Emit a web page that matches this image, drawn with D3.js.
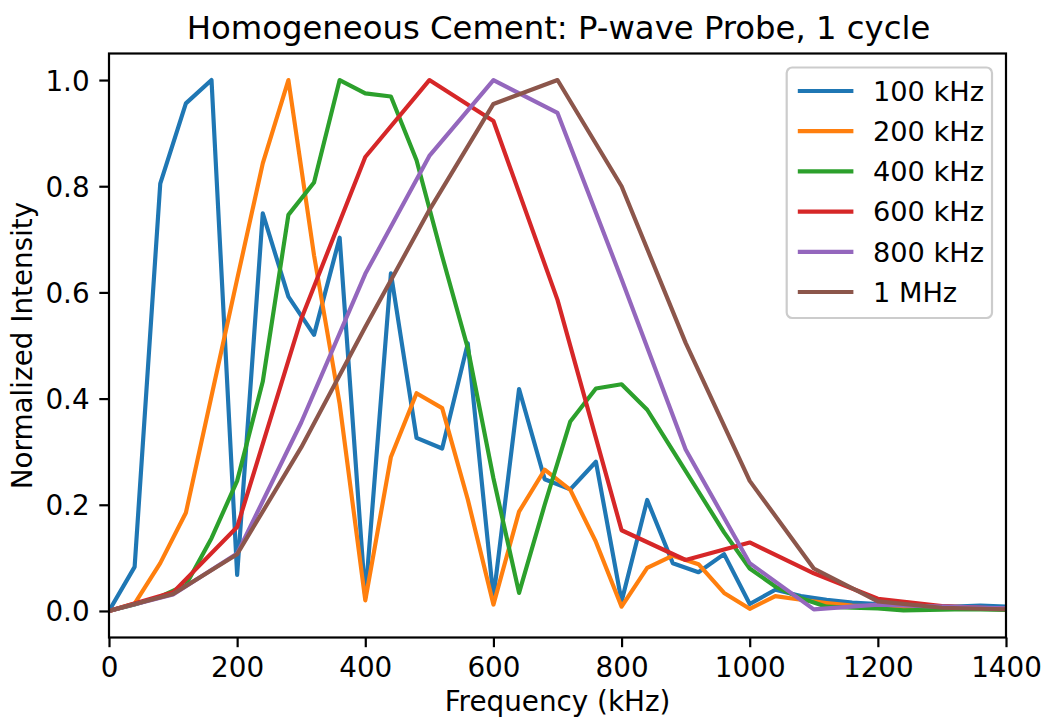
<!DOCTYPE html>
<html>
<head>
<meta charset="utf-8">
<script src="https://cdn.jsdelivr.net/npm/d3@7"></script>
<style>
  html, body { margin: 0; padding: 0; background: #fff; }
  svg { display: block; font-family: "DejaVu Sans", sans-serif; }
</style>
</head>
<body>
<svg id="chart" width="1042" height="721"></svg>
<script>
// ---- Data ----
const freq40 = d3.range(0, 1401, 40);   // kHz sampling for the 100/200/400 kHz probes
const freq100 = d3.range(0, 1401, 100); // kHz sampling for the 600/800/1000 kHz probes

const s100kHz = [0, 0.083, 0.805, 0.956, 1.0, 0.068, 0.749, 0.592, 0.52, 0.703,
  0.025, 0.636, 0.326, 0.306, 0.504, 0.025, 0.418, 0.248, 0.229, 0.281,
  0.018, 0.209, 0.09, 0.073, 0.107, 0.013, 0.04, 0.028, 0.021, 0.016,
  0.013, 0.011, 0.009, 0.008, 0.01, 0.008];
const s200kHz = [0, 0.014, 0.09, 0.185, 0.405, 0.625, 0.843, 1.0, 0.67, 0.39,
  0.02, 0.29, 0.41, 0.382, 0.21, 0.012, 0.187, 0.266, 0.228, 0.13,
  0.008, 0.081, 0.104, 0.088, 0.034, 0.004, 0.028, 0.021, 0.015, 0.01,
  0.008, 0.006, 0.005, 0.005, 0.005, 0.004];
const s400kHz = [0, 0.012, 0.027, 0.049, 0.137, 0.245, 0.432, 0.746, 0.807, 1.0,
  0.975, 0.969, 0.849, 0.668, 0.495, 0.25, 0.034, 0.2, 0.357, 0.419,
  0.427, 0.379, 0.302, 0.225, 0.148, 0.08, 0.046, 0.024, 0.008, 0.006,
  0.005, 0.001, 0.002, 0.003, 0.003, 0.002];
const s600kHz = [0, 0.035, 0.158, 0.55, 0.855, 1.0, 0.923, 0.586, 0.152, 0.096, 0.129, 0.071, 0.023, 0.009, 0.004];
const s800kHz = [0, 0.031, 0.108, 0.355, 0.635, 0.857, 1.0, 0.938, 0.625, 0.304, 0.09, 0.003, 0.012, 0.008, 0.005];
const s1MHz   = [0, 0.032, 0.107, 0.308, 0.535, 0.755, 0.955, 1.0, 0.8, 0.505, 0.245, 0.08, 0.018, 0.006, 0.003];

const seriesNames = ["100 kHz", "200 kHz", "400 kHz", "600 kHz", "800 kHz", "1 MHz"];
const colors = ["#1f77b4", "#ff7f0e", "#2ca02c", "#d62728", "#9467bd", "#8c564b"];
const xTicks = [0, 200, 400, 600, 800, 1000, 1200, 1400];
const yTicks = [0.0, 0.2, 0.4, 0.6, 0.8, 1.0];

const series = [
  { name: seriesNames[0], x: freq40, y: s100kHz },
  { name: seriesNames[1], x: freq40, y: s200kHz },
  { name: seriesNames[2], x: freq40, y: s400kHz },
  { name: seriesNames[3], x: freq100, y: s600kHz },
  { name: seriesNames[4], x: freq100, y: s800kHz },
  { name: seriesNames[5], x: freq100, y: s1MHz }
];

// ---- Layout ----
const svg = d3.select("#chart");
const L = 109, R = 1006, T = 53.5, B = 637.5;
const fs = 27.8;
const x = d3.scaleLinear().domain([0, 1400]).range([L, R]);
const y = d3.scaleLinear().domain([-0.05, 1.05]).range([B, T]);

// lines (clipped to axes)
svg.append("clipPath").attr("id", "clip")
  .append("rect").attr("x", L).attr("y", T).attr("width", R - L).attr("height", B - T);

const line = d3.line().x(d => x(d[0])).y(d => y(d[1]));
const g = svg.append("g").attr("clip-path", "url(#clip)");
series.forEach((s, i) => {
  g.append("path")
    .datum(s.x.map((v, j) => [v, s.y[j]]))
    .attr("d", line)
    .attr("fill", "none")
    .attr("stroke", colors[i])
    .attr("stroke-width", 4.17)
    .attr("stroke-linejoin", "round")
    .attr("stroke-linecap", "square");
});

// axes
const xAxis = d3.axisBottom(x).tickValues(xTicks).tickFormat(d3.format("d")).tickSizeOuter(0).tickSize(9.7).tickPadding(9.7);
const yAxis = d3.axisLeft(y).tickValues(yTicks).tickFormat(d3.format(".1f")).tickSizeOuter(0).tickSize(9.7).tickPadding(9.7);

const gx = svg.append("g").attr("transform", `translate(0,${B})`).call(xAxis);
const gy = svg.append("g").attr("transform", `translate(${L},0)`).call(yAxis);
[gx, gy].forEach(a => {
  a.select(".domain").remove();
  a.selectAll(".tick line").attr("stroke", "#000").attr("stroke-width", 2.2);
  a.selectAll(".tick text").attr("font-family", "DejaVu Sans").attr("font-size", fs).attr("fill", "#000");
});
gx.selectAll(".tick text").attr("dy", "0.71em");
gy.selectAll(".tick text").attr("dy", "0.36em");

// spines
svg.append("rect").attr("x", L).attr("y", T).attr("width", R - L).attr("height", B - T)
  .attr("fill", "none").attr("stroke", "#000").attr("stroke-width", 2.2);

// labels
svg.append("text").attr("x", (L + R) / 2 + 1).attr("y", 39).attr("text-anchor", "middle")
  .attr("font-size", 32.3).text("Homogeneous Cement: P-wave Probe, 1 cycle");
svg.append("text").attr("x", (L + R) / 2).attr("y", 711).attr("text-anchor", "middle")
  .attr("font-size", fs).text("Frequency (kHz)");
svg.append("text").attr("transform", `translate(32,${(T + B) / 2}) rotate(-90)`).attr("text-anchor", "middle")
  .attr("font-size", fs).text("Normalized Intensity");

// legend
const lgX = 786.7, lgY = 67.5, lgW = 992 - 786.7, lgH = 318 - 67.5;
svg.append("rect").attr("x", lgX).attr("y", lgY).attr("width", lgW).attr("height", lgH)
  .attr("rx", 5.5).attr("fill", "#fff").attr("fill-opacity", 0.8)
  .attr("stroke", "#cccccc").attr("stroke-width", 2.2);
const rowY = d3.scaleLinear().domain([0, 5]).range([91, 292]);
series.forEach((s, i) => {
  const yy = rowY(i);
  svg.append("line").attr("x1", 797.8).attr("x2", 853.4).attr("y1", yy).attr("y2", yy)
    .attr("stroke", colors[i]).attr("stroke-width", 4.17);
  svg.append("text").attr("x", 873).attr("y", yy).attr("dy", "0.36em")
    .attr("font-size", 27.2).text(s.name);
});
</script>
</body>
</html>
